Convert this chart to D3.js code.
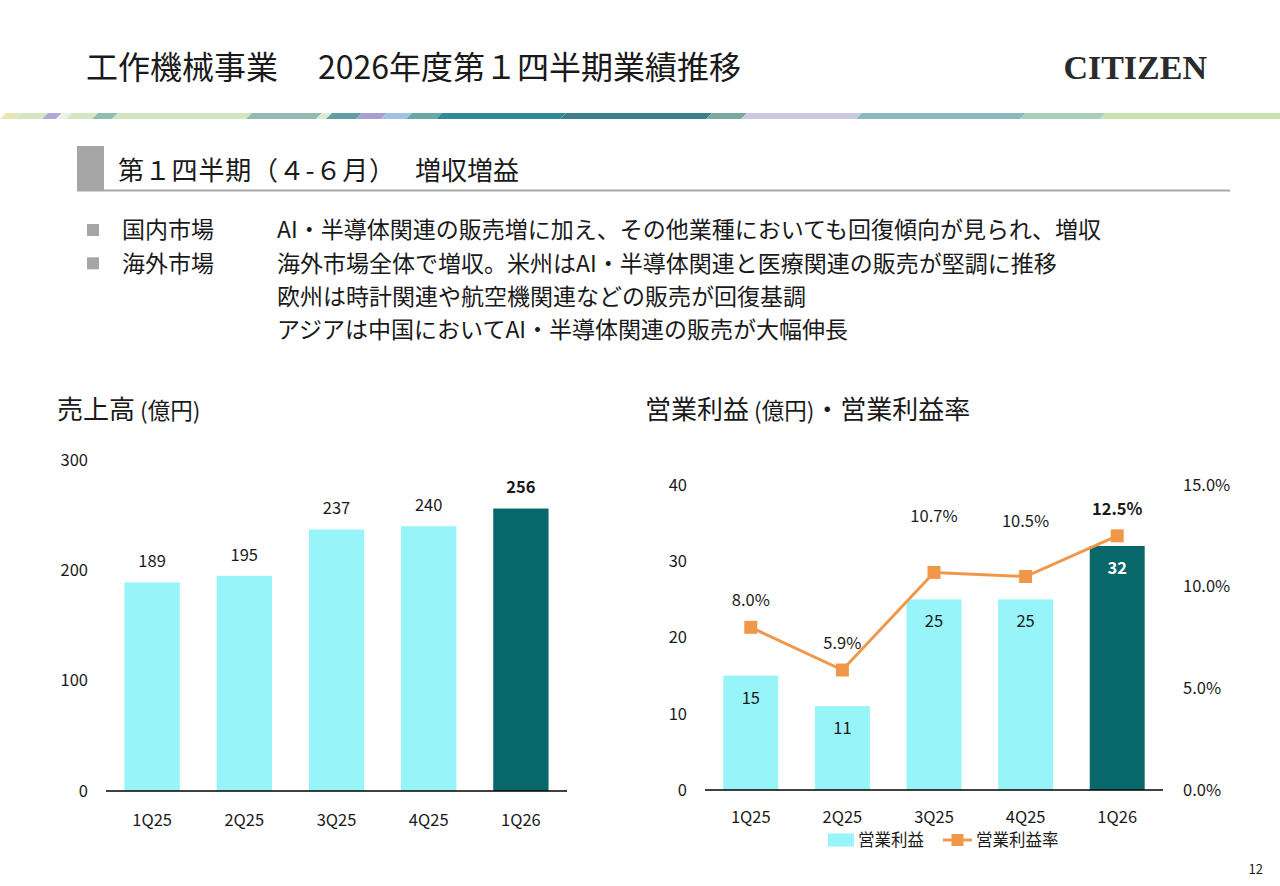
<!DOCTYPE html>
<html>
<head>
<meta charset="utf-8">
<script src="https://cdn.jsdelivr.net/npm/d3@7"></script>
<style>
  html, body { margin: 0; padding: 0; background: #fff; }
  svg { display: block; font-family: "Noto Sans CJK JP", "Noto Sans", sans-serif; }
</style>
</head>
<body>
<svg id="slide" width="1280" height="886"></svg>
<script>
// ---- data ----
const quarters = ['1Q25', '2Q25', '3Q25', '4Q25', '1Q26'];
const sales = [189, 195, 237, 240, 256];
const opProfit = [15, 11, 25, 25, 32];
const opMargin = [8.0, 5.9, 10.7, 10.5, 12.5];
const salesTicks = [0, 100, 200, 300];
const profitTicks = [0, 10, 20, 30, 40];
const marginTicks = [0, 5, 10, 15];

const bulletRows = [
  ['国内市場', 'AI・半導体関連の販売増に加え、その他業種においても回復傾向が見られ、増収'],
  ['海外市場', '海外市場全体で増収。米州はAI・半導体関連と医療関連の販売が堅調に推移'],
  ['', '欧州は時計関連や航空機関連などの販売が回復基調'],
  ['', 'アジアは中国においてAI・半導体関連の販売が大幅伸長']
];

const LIGHT = '#97f4f8';
const DARK = '#07676a';
const ORANGE = '#f0984a';
const TEXT = '#1a1a1a';
const LABEL_SIZE = 16.5;

const svg = d3.select('#slide');

// ---- header ----
svg.append('text').attr('x', 86).attr('y', 79)
  .attr('font-size', 32).attr('fill', TEXT).text('工作機械事業');
svg.append('text').attr('x', 318).attr('y', 79)
  .attr('font-size', 32).attr('fill', TEXT).text('2026年度第１四半期業績推移');
svg.append('text').attr('x', 1207).attr('y', 79)
  .attr('text-anchor', 'end')
  .attr('font-family', '"Liberation Serif", "DejaVu Serif", serif')
  .attr('font-weight', 'bold').attr('font-size', 34).attr('fill', '#2b2b2b')
  .text('CITIZEN');

// decorative band
const bandSegs = [
  [0, 16, '#e6e7b4'], [16, 42, '#d6e6c2'], [42, 56, '#b4a8d6'], [56, 66, '#eef2e4'],
  [66, 92, '#d4e6c4'], [92, 112, '#8fbdb0'], [112, 246, '#d1e5c0'], [246, 316, '#93bab2'],
  [316, 326, '#dcebd4'], [326, 356, '#5f9ea2'], [356, 381, '#a79fcf'], [381, 406, '#a2c2e2'],
  [406, 436, '#6aa8a6'], [436, 560, '#2f8c96'], [560, 706, '#3c7f89'], [706, 741, '#7aa8a0'],
  [741, 856, '#c9c9e1'], [856, 1020, '#8bb8c0'], [1020, 1100, '#a8cfb9'], [1100, 1280, '#c9e2b2']
];
const bandY = 113, bandH = 6, slant = 6;
svg.append('g').selectAll('path').data(bandSegs).join('path')
  .attr('d', d => `M${d[0]},${bandY + bandH} L${d[0] + slant},${bandY} L${d[1] + slant},${bandY} L${d[1]},${bandY + bandH} Z`)
  .attr('fill', d => d[2]);

// section header
svg.append('rect').attr('x', 77).attr('y', 146).attr('width', 27).attr('height', 44).attr('fill', '#a6a6a6');
svg.append('line').attr('x1', 77).attr('x2', 1230).attr('y1', 190.5).attr('y2', 190.5)
  .attr('stroke', '#a6a6a6').attr('stroke-width', 2);
svg.append('text').attr('x', 118).attr('y', 180).attr('font-size', 26).attr('fill', TEXT)
  .attr('letter-spacing', 0.8)
  .text('第１四半期（４-６月）');
svg.append('text').attr('x', 415).attr('y', 180).attr('font-size', 26).attr('fill', TEXT)
  .text('増収増益');

// bullets
const rowY = d3.scaleLinear().domain([0, 3]).range([230, 330]);
const rows = svg.append('g').selectAll('g').data(bulletRows).join('g')
  .attr('transform', (d, i) => `translate(0, ${rowY(i)})`);
rows.filter(d => d[0]).append('rect')
  .attr('x', 87).attr('y', -6).attr('width', 12).attr('height', 12).attr('fill', '#a6a6a6');
rows.append('text').attr('x', 122).attr('dy', '0.36em').attr('font-size', 23).attr('fill', TEXT)
  .text(d => d[0]);
rows.append('text').attr('x', 277).attr('dy', '0.36em').attr('font-size', 23).attr('fill', TEXT)
  .text(d => d[1]);

// chart titles
function chartTitle(x, parts) {
  const t = svg.append('text').attr('x', x).attr('y', 419).attr('fill', TEXT);
  parts.forEach(p => t.append('tspan').attr('font-size', p[1]).text(p[0]));
}
chartTitle(57, [['売上高', 26], [' (億円)', 22.5]]);
chartTitle(645, [['営業利益', 26], [' (億円)', 22.5], ['・営業利益率', 26]]);

function styleAxis(g) {
  g.select('.domain').remove();
  g.selectAll('.tick line').remove();
  g.selectAll('.tick text').attr('font-size', LABEL_SIZE).attr('fill', TEXT)
    .attr('font-family', '"Noto Sans CJK JP", "Noto Sans", sans-serif');
}

// ---- left chart: sales ----
{
  const x = d3.scaleBand().domain(quarters).range([106, 567]).paddingInner(0.4).paddingOuter(0.2);
  const y = d3.scaleLinear().domain([0, 300]).range([791, 460]);
  const g = svg.append('g');

  g.append('g').attr('transform', 'translate(88,0)')
    .call(d3.axisLeft(y).tickValues(salesTicks).tickSize(0).tickPadding(0))
    .call(styleAxis);

  g.selectAll('rect.bar').data(sales).join('rect')
    .attr('class', 'bar')
    .attr('x', (d, i) => x(quarters[i]))
    .attr('width', x.bandwidth())
    .attr('y', d => y(d))
    .attr('height', d => y(0) - y(d))
    .attr('fill', (d, i) => i === quarters.length - 1 ? DARK : LIGHT);

  g.append('line').attr('x1', 106).attr('x2', 567).attr('y1', y(0)).attr('y2', y(0))
    .attr('stroke', '#000').attr('stroke-width', 1.5);

  g.selectAll('text.val').data(sales).join('text')
    .attr('class', 'val')
    .attr('x', (d, i) => x(quarters[i]) + x.bandwidth() / 2)
    .attr('y', d => y(d) - 21)
    .attr('dy', '0.36em')
    .attr('text-anchor', 'middle')
    .attr('font-size', LABEL_SIZE)
    .attr('font-weight', (d, i) => i === quarters.length - 1 ? 'bold' : 'normal')
    .attr('fill', TEXT)
    .text(d => d);

  g.append('g').attr('transform', `translate(0,${y(0) + 29})`)
    .call(d3.axisBottom(x).tickSize(0).tickPadding(0))
    .call(styleAxis)
    .selectAll('.tick text').attr('dy', '0.36em');
}

// ---- right chart: operating profit & margin ----
{
  const x = d3.scaleBand().domain(quarters).range([705, 1163]).paddingInner(0.4).paddingOuter(0.2);
  const y = d3.scaleLinear().domain([0, 40]).range([790, 485]);
  const yr = d3.scaleLinear().domain([0, 15]).range([790, 485]);
  const g = svg.append('g');
  const cx = i => x(quarters[i]) + x.bandwidth() / 2;

  g.append('g').attr('transform', 'translate(687,0)')
    .call(d3.axisLeft(y).tickValues(profitTicks).tickSize(0).tickPadding(0))
    .call(styleAxis);

  g.append('g').attr('transform', 'translate(1183,0)')
    .call(d3.axisRight(yr).tickValues(marginTicks).tickSize(0).tickPadding(0)
      .tickFormat(d => d.toFixed(1) + '%'))
    .call(styleAxis);

  g.selectAll('rect.bar').data(opProfit).join('rect')
    .attr('class', 'bar')
    .attr('x', (d, i) => x(quarters[i]))
    .attr('width', x.bandwidth())
    .attr('y', d => y(d))
    .attr('height', d => y(0) - y(d))
    .attr('fill', (d, i) => i === quarters.length - 1 ? DARK : LIGHT);

  g.append('line').attr('x1', 705).attr('x2', 1163).attr('y1', y(0)).attr('y2', y(0))
    .attr('stroke', '#000').attr('stroke-width', 1.5);

  g.selectAll('text.val').data(opProfit).join('text')
    .attr('class', 'val')
    .attr('x', (d, i) => cx(i))
    .attr('y', d => y(d) + 22)
    .attr('dy', '0.36em')
    .attr('text-anchor', 'middle')
    .attr('font-size', LABEL_SIZE)
    .attr('font-weight', (d, i) => i === quarters.length - 1 ? 'bold' : 'normal')
    .attr('fill', (d, i) => i === quarters.length - 1 ? '#fff' : TEXT)
    .text(d => d);

  const line = d3.line().x((d, i) => cx(i)).y(d => yr(d));
  g.append('path').datum(opMargin)
    .attr('d', line).attr('fill', 'none').attr('stroke', ORANGE).attr('stroke-width', 3);

  g.selectAll('rect.mk').data(opMargin).join('rect')
    .attr('class', 'mk')
    .attr('x', (d, i) => cx(i) - 6.5).attr('y', d => yr(d) - 6.5)
    .attr('width', 13).attr('height', 13).attr('fill', ORANGE);

  // labels sit above the markers; the two that would crowd the bars are lifted higher
  const lift = { '3Q25': 56, '4Q25': 55 };
  g.selectAll('text.pct').data(opMargin).join('text')
    .attr('class', 'pct')
    .attr('x', (d, i) => cx(i))
    .attr('y', (d, i) => yr(d) - (lift[quarters[i]] || 27))
    .attr('dy', '0.36em')
    .attr('text-anchor', 'middle')
    .attr('font-size', LABEL_SIZE)
    .attr('font-weight', (d, i) => i === quarters.length - 1 ? 'bold' : 'normal')
    .attr('fill', TEXT)
    .text(d => d.toFixed(1) + '%');

  g.append('g').attr('transform', `translate(0,${y(0) + 27})`)
    .call(d3.axisBottom(x).tickSize(0).tickPadding(0))
    .call(styleAxis)
    .selectAll('.tick text').attr('dy', '0.36em');

  // legend
  const lg = svg.append('g').attr('transform', 'translate(0,840)');
  lg.append('rect').attr('x', 828).attr('y', -6.5).attr('width', 26).attr('height', 13).attr('fill', LIGHT);
  lg.append('text').attr('x', 858).attr('dy', '0.36em').attr('font-size', LABEL_SIZE).attr('fill', TEXT).text('営業利益');
  lg.append('line').attr('x1', 943).attr('x2', 972).attr('stroke', ORANGE).attr('stroke-width', 3);
  lg.append('rect').attr('x', 951.5).attr('y', -6).attr('width', 12).attr('height', 12).attr('fill', ORANGE);
  lg.append('text').attr('x', 976).attr('dy', '0.36em').attr('font-size', LABEL_SIZE).attr('fill', TEXT).text('営業利益率');
}

// page number
svg.append('text').attr('x', 1263).attr('y', 874).attr('text-anchor', 'end')
  .attr('font-size', 13).attr('fill', TEXT).text('12');
</script>
</body>
</html>
